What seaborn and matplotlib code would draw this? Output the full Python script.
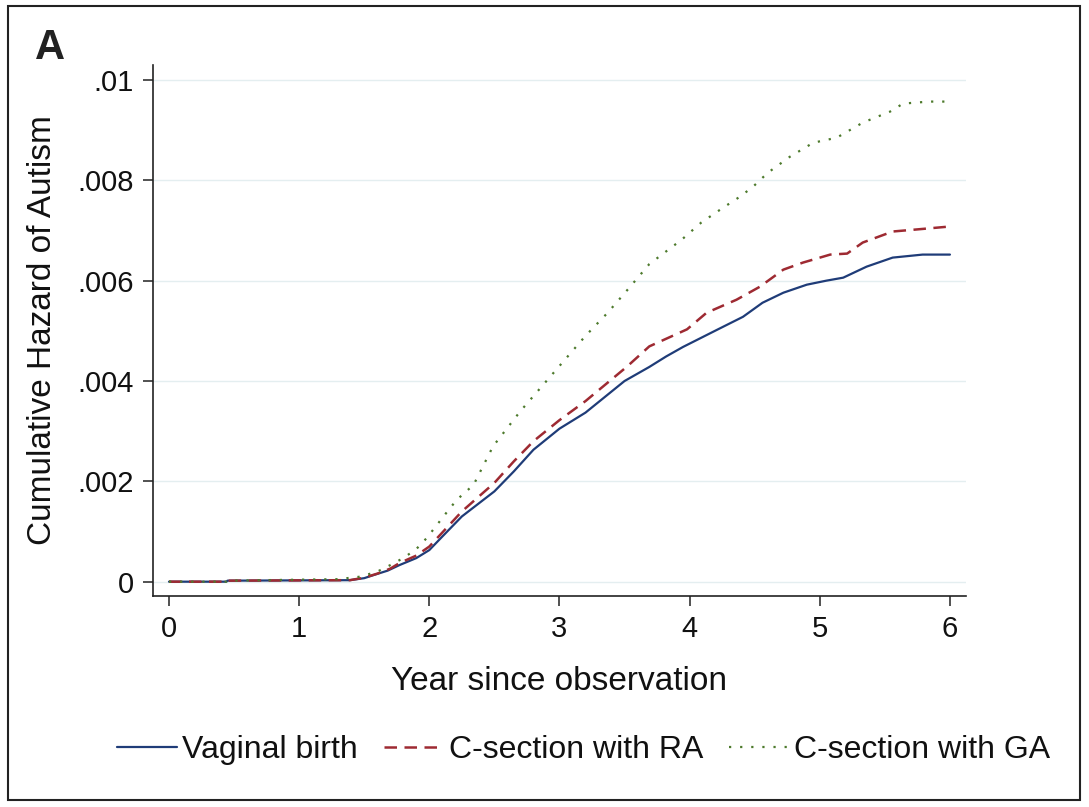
import matplotlib
matplotlib.use("Agg")
import matplotlib.pyplot as plt
import matplotlib.patches as mpatches
import seaborn as sns
import pandas as pd

# ---- data ----
vag_t = [0, 0.44, 0.45, 1.39, 1.5, 1.57, 1.68, 1.77, 1.9, 2.0, 2.1, 2.25, 2.5, 2.65, 2.8, 3.0,
         3.2, 3.5, 3.69, 3.82, 3.95, 4.21, 4.41, 4.56, 4.72, 4.9, 5.05, 5.18, 5.36, 5.56, 5.79, 6.0]
vag_v = [0, 0, 0.00002, 0.00003, 0.00007, 0.00013, 0.00022, 0.00033, 0.00047, 0.00063, 0.0009,
         0.0013, 0.0018, 0.0022, 0.00263, 0.00305, 0.00337, 0.0040, 0.00428, 0.00449, 0.00468,
         0.00502, 0.00528, 0.00556, 0.00576, 0.00592, 0.006, 0.00606, 0.00628, 0.00646, 0.00652, 0.00652]

ra_t = [0, 0.44, 0.45, 1.39, 1.5, 1.6, 1.7, 1.77, 1.9, 2.0, 2.1, 2.25, 2.5, 2.65, 2.8, 3.0,
        3.2, 3.52, 3.69, 3.98, 4.13, 4.36, 4.54, 4.72, 4.87, 5.08, 5.21, 5.33, 5.56, 5.74, 6.0]
ra_v = [0, 0, 0.00002, 0.00003, 0.00008, 0.00016, 0.00026, 0.00037, 0.00052, 0.0007, 0.00098,
        0.0014, 0.00197, 0.0024, 0.0028, 0.00322, 0.0036, 0.00429, 0.00469, 0.00503, 0.00536,
        0.00562, 0.00588, 0.00622, 0.00636, 0.00652, 0.00654, 0.00676, 0.00698, 0.00702, 0.00708]

ga_t = [0, 0.44, 0.45, 1.3, 1.47, 1.6, 1.7, 1.8, 1.9, 1.98, 2.13, 2.21, 2.34, 2.49, 2.7, 3.0,
        3.2, 3.37, 3.53, 3.69, 3.94, 4.09, 4.26, 4.39, 4.49, 4.6, 4.77, 4.95, 5.13, 5.33,
        5.54, 5.64, 5.84, 6.0]
ga_v = [0, 0, 0.00002, 0.00005, 0.0001, 0.0002, 0.00033, 0.00047, 0.00065, 0.00087, 0.00137,
        0.00163, 0.00193, 0.0027, 0.0034, 0.0043, 0.0049, 0.00536, 0.00584, 0.00633, 0.00682,
        0.00716, 0.00746, 0.00768, 0.00788, 0.00815, 0.00847, 0.00875, 0.00885, 0.00915,
        0.00937, 0.00953, 0.00957, 0.00957]

series_names = ["Vaginal birth", "C-section with RA", "C-section with GA"]
x_ticks = [0, 1, 2, 3, 4, 5, 6]
y_ticks = [0, 0.002, 0.004, 0.006, 0.008, 0.01]
y_tick_labels = ["0", ".002", ".004", ".006", ".008", ".01"]

df = pd.concat([
    pd.DataFrame({"t": vag_t, "v": vag_v, "group": series_names[0]}),
    pd.DataFrame({"t": ra_t, "v": ra_v, "group": series_names[1]}),
    pd.DataFrame({"t": ga_t, "v": ga_v, "group": series_names[2]}),
], ignore_index=True)

sns.set_style("white")
plt.rcParams["font.family"] = ["Liberation Sans", "DejaVu Sans"]

fig = plt.figure(figsize=(10.89, 8.07), dpi=100)
ax = fig.add_axes([0.1405, 0.2615, 0.7465, 0.658])

styles = {
    series_names[0]: dict(color="#1f3c78", linestyle="-", linewidth=1.6),
    series_names[1]: dict(color="#9e2a32", linestyle=(0, (5, 3)), linewidth=1.8),
    series_names[2]: dict(color="#4d7a2c", linestyle=(0, (1, 4)), linewidth=1.6),
}
for name in series_names:
    sub = df[df["group"] == name]
    sns.lineplot(data=sub, x="t", y="v", ax=ax, label=name,
                 estimator=None, sort=True, **styles[name])

ax.set_xlim(-0.123, 6.123)
ax.set_ylim(-0.000285, 0.0103)
ax.set_xticks(x_ticks)
ax.set_xticklabels([str(x) for x in x_ticks])
ax.set_yticks(y_ticks)
ax.set_yticklabels(y_tick_labels)
for yv in y_ticks:
    ax.axhline(yv, color="#e4eef0", linewidth=1.0, zorder=0)

for s in ["top", "right"]:
    ax.spines[s].set_visible(False)
for s in ["left", "bottom"]:
    ax.spines[s].set_color("#222222")
    ax.spines[s].set_linewidth(1.2)

ax.tick_params(axis="both", which="major", direction="out", length=7, width=1.1,
               color="#222222", labelsize=21, labelcolor="#111111", pad=7,
               left=True, bottom=True)
ax.set_xlabel("Year since observation", fontsize=24, color="#111111", labelpad=16)
ax.set_ylabel("Cumulative Hazard of Autism", fontsize=24, color="#111111", labelpad=14)

ax.get_legend().remove()
handles, labels = ax.get_legend_handles_labels()
fig.legend(handles, labels, loc="center", bbox_to_anchor=(0.536, 0.0706), ncol=3,
           frameon=False, fontsize=23, handlelength=1.9, handletextpad=0.15,
           columnspacing=0.8, labelcolor="#111111")

fig.text(0.032, 0.94, "A", fontsize=30, fontweight="bold", color="#222222",
         va="center", ha="left")

fig.patches.append(mpatches.Rectangle((8 / 1089, 1 - 800 / 807), 1072 / 1089, 794 / 807,
                                      transform=fig.transFigure, fill=False,
                                      edgecolor="#222222", linewidth=1.5))

fig.savefig("out.png", dpi=100)
